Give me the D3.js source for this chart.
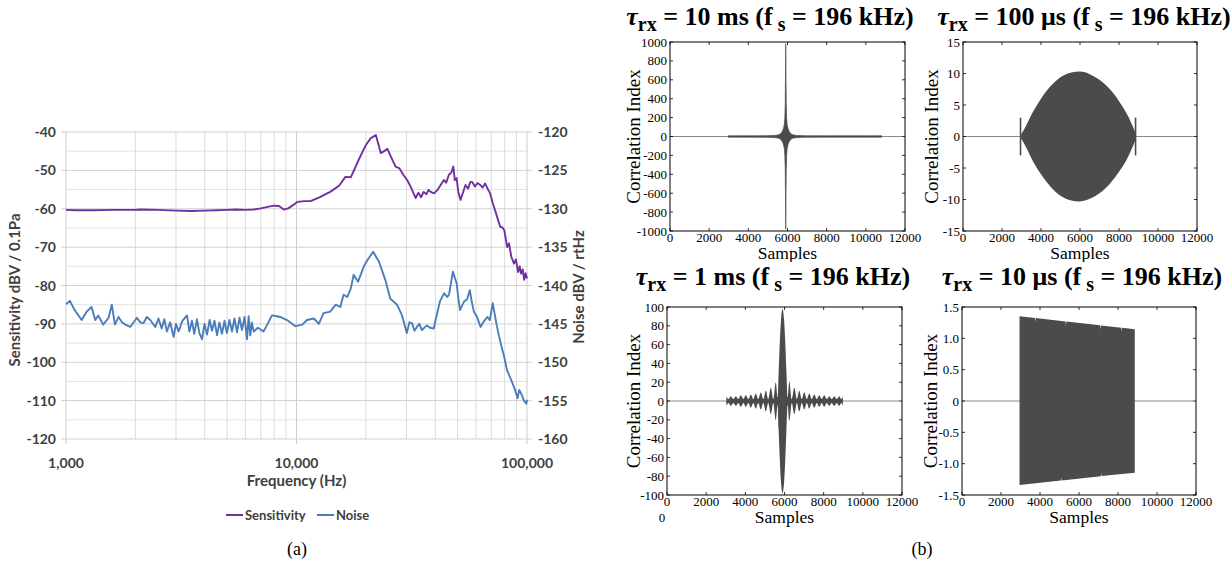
<!DOCTYPE html>
<html><head><meta charset="utf-8">
<script src="https://cdn.jsdelivr.net/npm/d3@7"></script>
<style>
html,body{margin:0;padding:0;background:#fff;}
svg{display:block;}
</style></head>
<body>
<svg id="fig" width="1232" height="567"></svg>
<script>
// ---------------- DATA : panel (a) ----------------
const freqTicks = [1000, 10000, 100000];
const freqTickLabels = ["1,000", "10,000", "100,000"];
const sensTicks = [-120, -110, -100, -90, -80, -70, -60, -50, -40];
const noiseTicks = [-160, -155, -150, -145, -140, -135, -130, -125, -120];

const sensFreq = [1000,1100,1300,1600,2000,2100,2500,3000,3500,4000,4500,5000,5500,6000,6500,7000,7500,8000,8400,8800,9200,9700,10100,10800,11500,12500,14000,15300,16300,17200,18600,19400,20000,21000,22100,23200,24000,24800,25700,26900,28000,29100,30200,31300,32200,32900,33800,34700,35600,36600,37400,38200,39500,40900,42200,43600,44600,45800,47000,47900,48600,49500,50300,51500,52800,54100,55500,56800,57800,59500,61000,62700,64200,65800,67500,69200,71000,72700,74500,76500,78000,79700,82000,83500,85500,87800,89500,91500,93000,94200,95800,97200,98600,100000];
const sensDb = [-60.3,-60.4,-60.4,-60.3,-60.3,-60.2,-60.3,-60.5,-60.6,-60.5,-60.4,-60.3,-60.2,-60.3,-60.2,-59.9,-59.5,-59.2,-59.3,-60.2,-59.9,-59.0,-58.2,-58.0,-58.0,-57.1,-55.6,-54.0,-51.7,-51.8,-47.3,-45.0,-43.4,-41.6,-40.8,-45.5,-45.0,-44.4,-46.5,-49.0,-49.5,-51.2,-52.5,-54.3,-56.0,-57.2,-55.8,-57.0,-55.6,-56.2,-55.1,-55.6,-56.0,-55.1,-53.8,-52.5,-53.2,-51.2,-50.5,-49.0,-52.5,-52.0,-55.5,-57.7,-55.7,-53.8,-54.8,-53.0,-53.0,-54.2,-53.3,-53.8,-54.5,-53.4,-54.8,-56.0,-58.5,-60.4,-62.5,-64.7,-64.8,-65.6,-70.0,-69.0,-72.5,-74.3,-73.2,-76.5,-75.0,-76.9,-75.8,-78.5,-76.8,-78.2];

const noiseFreq = [1000,1040,1090,1170,1230,1290,1340,1380,1450,1530,1580,1630,1690,1750,1810,1900,2030,2100,2170,2240,2320,2440,2520,2600,2670,2740,2830,2930,3000,3080,3200,3350,3430,3520,3600,3700,3790,3890,3990,4090,4200,4300,4410,4520,4630,4750,4870,4990,5120,5250,5380,5520,5660,5800,5950,6100,6200,6300,6400,6520,6800,7190,7500,7820,8200,8500,9100,9900,10600,11100,11900,12500,13100,14000,14800,15500,16000,16600,17200,17700,18500,19600,20300,21500,22800,24300,25500,27300,28700,30100,30900,31700,32500,33300,34100,35000,36800,38000,39400,40900,42000,43700,45000,45900,47700,49500,50300,51200,53300,55000,56500,57500,58800,60500,62900,64500,67300,69000,71000,73600,75500,77600,79500,81800,84000,86400,88500,91000,92500,95100,97000,99400,100000];
const noiseDb = [-142.45,-142.0,-143.2,-144.5,-143.4,-142.8,-144.5,-143.9,-145.1,-144.2,-142.5,-145.1,-144.1,-144.8,-145.1,-145.4,-144.2,-144.8,-144.9,-144.1,-144.5,
  -145.4,-144.3,-145.6,-144.4,-146.0,-144.8,-146.7,-145.0,-146.0,-144.6,-143.9,-146.0,-144.6,-146.3,-144.4,-146.2,-147.0,-145.0,-146.4,-144.5,-145.9,-144.6,-146.5,-144.8,-146.3,-144.6,-146.2,-144.5,-146.0,-144.3,-146.1,-144.2,-145.8,-144.1,-147.0,-144.0,-146.5,-144.8,-146.0,
  -145.5,-146.0,-145.0,-143.9,-144.0,-144.1,-144.5,-145.3,-145.1,-144.5,-144.3,-145.0,-143.6,-143.4,-142.5,-142.8,-141.2,-141.5,-140.4,-138.6,-139.5,-137.5,-136.7,-135.6,-136.9,-139.3,-141.7,-142.5,-143.9,-146.2,-144.8,-144.9,-145.9,-145.4,-145.0,-145.8,-145.2,-145.5,-145.6,-143.4,-142.0,-141.0,-141.5,-141.2,-138.2,-139.7,-141.5,-143.2,-142.1,-141.8,-140.6,-142.0,-143.4,-144.0,-145.4,-144.8,-144.1,-144.5,-142.3,-144.9,-146.5,-148.0,-149.2,-151.0,-151.8,-152.7,-153.5,-154.7,-153.6,-154.3,-155.0,-155.4,-154.9];

// ---------------- DATA : panel (b) ----------------
const sampleTicks = [0, 2000, 4000, 6000, 8000, 10000, 12000];
const p1Ticks = [-1000,-800,-600,-400,-200,0,200,400,600,800,1000];
const p2Ticks = [-15,-10,-5,0,5,10,15];
const p3Ticks = [-100,-80,-60,-40,-20,0,20,40,60,80,100];
const p4Ticks = [-1.5,-1.0,-0.5,0,0.5,1.0,1.5];
const p4TickLabels = ["-1.5","-1.0","-0.5","0","0.5","1.0","1.5"];

const baselineEnd = 11850;
// tau = 10 ms : envelope (sample, |amplitude|)
const p1Samples = [2980,3910,4910,5310,5510,5610,5690,5750,5800,5840,5865,5885,5900,5910,5920,5935,5955,5980,6020,6070,6130,6210,6310,6510,6910,7910,9910,10810];
const p1Env = [7,7,8,11,16,25,40,60,90,130,200,350,700,980,700,350,200,130,90,60,40,25,16,11,8,7,7,7];
// tau = 100 us
const p2Samples = [2980,3250,3500,4000,4500,5000,5500,6000,6500,7000,7500,8000,8500,8850];
const p2Env = [0.3,1.8,3.4,6.0,8.0,9.4,10.1,10.3,9.9,9.0,7.6,5.6,3.0,0.5];
const p2Marks = [2950, 8850];
const p2MarkAmp = 3;
// tau = 1 ms : lobed envelope
const p3Samples = [3030,3145,3260,3390,3515,3645,3770,3900,4025,4155,4280,4410,4535,4660,4790,4920,5045,5170,5300,5430,5555,5650,5700,5760,5820,5900,5980,6040,6100,6160,6245,6370,6500,6630,6755,6880,7010,7140,7265,7390,7520,7650,7775,7900,8030,8160,8285,8410,8540,8670,8795,8900,8980];
const p3Env = [5,2,5,2,5,2,6,2,6,2,7,2,8,2,9,2,11,2,14,2,20,4,30,62,86,98,86,62,30,4,21,2,14,2,11,2,9,2,8,2,7,2,6,2,6,2,5,2,5,2,5,2,5];
// tau = 10 us
const p4UpSamples = [2950,3740,3760,3780,5310,5330,5350,7080,7100,7120,8170,8190,8210,8860];
const p4Up = [1.352,1.325,1.26,1.324,1.27,1.20,1.268,1.208,1.14,1.206,1.169,1.11,1.167,1.145];
const p4LoSamples = [2950,5070,5090,5110,7120,7140,7160,8860];
const p4Lo = [-1.341,-1.27,-1.22,-1.269,-1.20,-1.15,-1.198,-1.145];

// ---------------- DRAW ----------------
const svg = d3.select("#fig");
const calibri = "Lato, 'Open Sans', sans-serif";
const serif = "'Liberation Serif', 'Times New Roman', serif";
const txtGray = "#404040";

// ===== panel (a) =====
(function(){
  const L = 66, R = 527, T = 132, B = 439;
  const x = d3.scaleLog().domain([1000,100000]).range([L,R]);
  const yS = d3.scaleLinear().domain([-120,-40]).range([B,T]);
  const yN = d3.scaleLinear().domain([-160,-120]).range([B,T]);
  const g = svg.append("g");

  const minorH = d3.range(-115, -40, 10);
  g.selectAll(".hm").data(minorH).join("line")
    .attr("x1", L).attr("x2", R).attr("y1", d=>yS(d)).attr("y2", d=>yS(d))
    .attr("stroke", "#e2e2e2").attr("stroke-width", 1);
  const vMinor = [];
  [1000,10000].forEach(dec => { for (let k=2;k<=9;k++) vMinor.push(dec*k); });
  g.selectAll(".vm").data(vMinor).join("line")
    .attr("x1", d=>x(d)).attr("x2", d=>x(d)).attr("y1", T).attr("y2", B)
    .attr("stroke", "#dcdcdc").attr("stroke-width", 1);
  g.selectAll(".vM").data(freqTicks).join("line")
    .attr("x1", d=>x(d)).attr("x2", d=>x(d)).attr("y1", T).attr("y2", B+5)
    .attr("stroke", "#cdcdcd").attr("stroke-width", 1);
  g.selectAll(".hM").data(sensTicks).join("line")
    .attr("x1", L-5).attr("x2", R+5).attr("y1", d=>yS(d)).attr("y2", d=>yS(d))
    .attr("stroke", "#d0d0d0").attr("stroke-width", 1);

  g.selectAll(".yl").data(sensTicks).join("text")
    .attr("x", L-10).attr("y", d=>yS(d)).attr("dy","0.36em")
    .attr("text-anchor","end").attr("font-family", calibri).attr("font-weight","bold")
    .attr("font-size", 14).attr("fill",txtGray).text(d=>d);
  g.selectAll(".yr").data(noiseTicks).join("text")
    .attr("x", R+11).attr("y", d=>yN(d)).attr("dy","0.36em")
    .attr("text-anchor","start").attr("font-family", calibri).attr("font-weight","bold")
    .attr("font-size", 14).attr("fill",txtGray).text(d=>d);
  g.selectAll(".xl").data(freqTicks).join("text")
    .attr("x", d=>x(d)).attr("y", 468)
    .attr("text-anchor","middle").attr("font-family", calibri).attr("font-weight","bold")
    .attr("font-size", 14).attr("fill",txtGray).text((d,i)=>freqTickLabels[i]);

  g.append("text").attr("x", (L+R)/2).attr("y", 486).attr("text-anchor","middle")
    .attr("font-family", calibri).attr("font-weight","bold").attr("font-size", 15)
    .attr("fill",txtGray).text("Frequency (Hz)");
  g.append("text").attr("transform", `translate(20,290) rotate(-90)`)
    .attr("text-anchor","middle").attr("font-family", calibri).attr("font-weight","bold")
    .attr("font-size", 15).attr("fill",txtGray).text("Sensitivity dBV / 0.1Pa");
  g.append("text").attr("transform", `translate(584,287) rotate(-90)`)
    .attr("text-anchor","middle").attr("font-family", calibri).attr("font-weight","bold")
    .attr("font-size", 15).attr("fill",txtGray).text("Noise dBV / rtHz");

  const sens = sensFreq.map((f,i)=>[f, sensDb[i]]);
  const noise = noiseFreq.map((f,i)=>[f, noiseDb[i]]);
  g.append("path").datum(noise)
    .attr("d", d3.line().x(d=>x(d[0])).y(d=>yN(d[1])))
    .attr("fill","none").attr("stroke","#4a7ebb").attr("stroke-width", 1.9)
    .attr("stroke-linejoin","round");
  g.append("path").datum(sens)
    .attr("d", d3.line().x(d=>x(d[0])).y(d=>yS(d[1])))
    .attr("fill","none").attr("stroke","#7030a0").attr("stroke-width", 1.9)
    .attr("stroke-linejoin","round");

  const ly = 515;
  const items = [{name:"Sensitivity", c:"#7030a0", x:226}, {name:"Noise", c:"#4a7ebb", x:317}];
  items.forEach(it=>{
    g.append("line").attr("x1", it.x).attr("x2", it.x+17).attr("y1", ly).attr("y2", ly)
      .attr("stroke", it.c).attr("stroke-width", 2);
    g.append("text").attr("x", it.x+19).attr("y", ly).attr("dy","0.36em")
      .attr("font-family", calibri).attr("font-weight","bold").attr("font-size", 13)
      .attr("fill",txtGray).text(it.name);
  });

  svg.append("text").attr("x", 297).attr("y", 555).attr("text-anchor","middle")
    .attr("font-family", serif).attr("font-size", 18).text("(a)");
})();

// ===== panel (b) =====
function title(cx, base, tauText){
  const t = svg.append("text").attr("x", cx).attr("y", base).attr("text-anchor","middle")
    .attr("font-family", serif).attr("font-weight","bold").attr("font-size", 26);
  t.append("tspan").attr("font-style","italic").text("τ");
  t.append("tspan").attr("font-size", 20).attr("dy", 6).text("rx");
  t.append("tspan").attr("dy", -6).text(" = " + tauText + " (f");
  t.append("tspan").attr("font-size", 20).attr("dy", 6).text(" s");
  t.append("tspan").attr("dy", -6).text(" = 196 kHz)");
}

function panel(box, yDomain, yTicks, yLabels, labelX, draw){
  const {L,R,T,B} = box;
  const x = d3.scaleLinear().domain([0,12000]).range([L,R]);
  const y = d3.scaleLinear().domain(yDomain).range([B,T]);
  const g = svg.append("g");
  g.append("line").attr("x1", x(0)).attr("x2", x(baselineEnd)).attr("y1", y(0)).attr("y2", y(0))
    .attr("stroke","#8a8a8a").attr("stroke-width", 1.2);
  draw(g, x, y);
  g.append("rect").attr("x", L).attr("y", T).attr("width", R-L).attr("height", B-T)
    .attr("fill","none").attr("stroke","#000").attr("stroke-width", 1);
  const tl = 3;
  g.selectAll(".xt").data(sampleTicks).join("path")
    .attr("d", d=>`M${x(d)},${B}v${-tl}M${x(d)},${T}v${tl}`).attr("stroke","#000").attr("stroke-width",0.8);
  g.selectAll(".yt").data(yTicks).join("path")
    .attr("d", d=>`M${L},${y(d)}h${tl}M${R},${y(d)}h${-tl}`).attr("stroke","#000").attr("stroke-width",0.8);
  g.selectAll(".xtl").data(sampleTicks).join("text")
    .attr("x", d=>x(d)).attr("y", B+11).attr("text-anchor","middle")
    .attr("font-family", serif).attr("font-size", 13).text(d=>d);
  g.selectAll(".ytl").data(yTicks).join("text")
    .attr("x", L-3).attr("y", d=>y(d)).attr("dy","0.35em").attr("text-anchor","end")
    .attr("font-family", serif).attr("font-size", 13).text((d,i)=>yLabels ? yLabels[i] : d);
  g.append("text").attr("transform", `translate(${labelX},${(T+B)/2}) rotate(-90)`)
    .attr("text-anchor","middle").attr("font-family", serif).attr("font-size", 19)
    .text("Correlation Index");
  g.append("text").attr("x", (L+R)/2).attr("y", B+28).attr("text-anchor","middle")
    .attr("font-family", serif).attr("font-size", 17.5).text("Samples");
  return g;
}

const darkFill = "#4b4b4b";
const symArea = (x,y) => d3.area().x(d=>x(d[0])).y0(d=>y(-d[1])).y1(d=>y(d[1]));

panel({L:670,R:905,T:42,B:231}, [-1000,1000], p1Ticks, null, 640, (g,x,y)=>{
  const data = p1Samples.map((s,i)=>[s, p1Env[i]]);
  g.append("path").datum(data).attr("d", symArea(x,y)).attr("fill", darkFill)
    .attr("stroke", darkFill).attr("stroke-width", 0.7);
});
panel({L:963,R:1197,T:42,B:231}, [-15,15], p2Ticks, null, 938, (g,x,y)=>{
  const data = p2Samples.map((s,i)=>[s, p2Env[i]]);
  g.append("path").datum(data).attr("d", symArea(x,y).curve(d3.curveMonotoneX)).attr("fill", darkFill);
  g.selectAll(".mk").data(p2Marks).join("line")
    .attr("x1", d=>x(d)).attr("x2", d=>x(d)).attr("y1", y(-p2MarkAmp)).attr("y2", y(p2MarkAmp))
    .attr("stroke", darkFill).attr("stroke-width", 1.6);
});

// white band covering lower part of the top "Samples" labels
svg.append("rect").attr("x", 600).attr("y", 262).attr("width", 632).attr("height", 30).attr("fill","#fff");

panel({L:667,R:902,T:307,B:495}, [-100,100], p3Ticks, null, 640, (g,x,y)=>{
  const data = p3Samples.map((s,i)=>[s, p3Env[i]]);
  g.append("path").datum(data).attr("d", symArea(x,y).curve(d3.curveMonotoneX)).attr("fill", darkFill);
});
panel({L:962,R:1196,T:307,B:495}, [-1.5,1.5], p4Ticks, p4TickLabels, 937, (g,x,y)=>{
  const up = p4UpSamples.map((s,i)=>[s, p4Up[i]]);
  const lo = p4LoSamples.map((s,i)=>[s, p4Lo[i]]);
  const poly = up.concat(lo.slice().reverse());
  g.append("path").attr("d", d3.line().x(d=>x(d[0])).y(d=>y(d[1]))(poly)+"Z").attr("fill", darkFill);
});

// stray "0" under the 1 ms panel
svg.append("text").attr("x", 662).attr("y", 522).attr("text-anchor","middle")
  .attr("font-family", serif).attr("font-size", 13).text("0");

title(770, 25, "10 ms");
title(1084, 25, "100 μs");
title(773, 285, "1 ms");
title(1082, 285, "10 μs");

svg.append("text").attr("x", 922).attr("y", 555).attr("text-anchor","middle")
  .attr("font-family", serif).attr("font-size", 18).text("(b)");
</script>
</body></html>
